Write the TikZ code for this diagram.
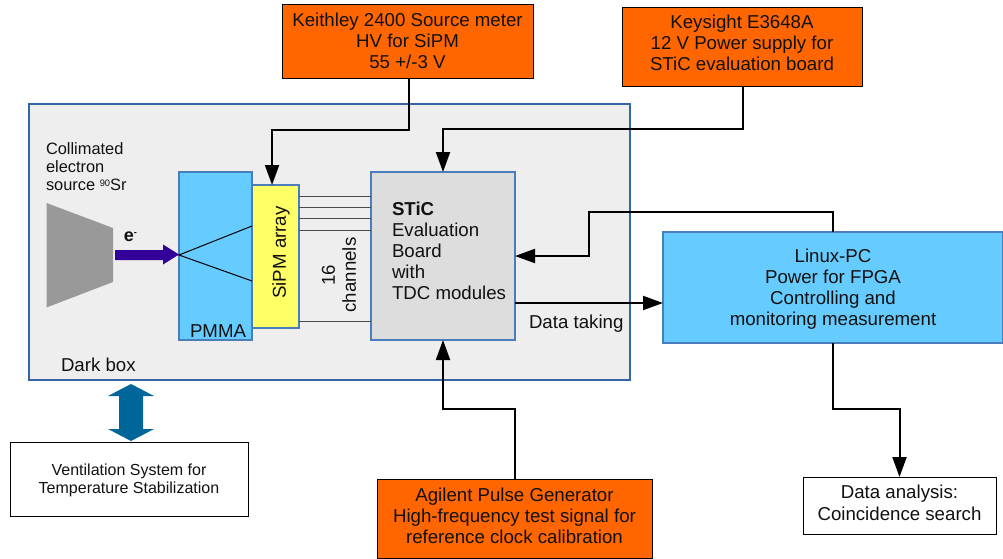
\documentclass[tikz,border=0pt]{standalone}
\usepackage{fontspec}
\setmainfont{Liberation Sans}
\usetikzlibrary{arrows.meta}
\definecolor{frameblue}{HTML}{3465A4}
\definecolor{edgeblue}{HTML}{4A7EBB}
\definecolor{orangebox}{HTML}{FF6600}
\definecolor{skybox}{HTML}{66CCFF}
\definecolor{yellowbox}{HTML}{FFFF66}
\definecolor{textdark}{HTML}{111111}
\definecolor{darkfill}{HTML}{EEEEEE}
\definecolor{sticfill}{HTML}{DDDDDD}
\definecolor{sourcegray}{HTML}{999999}
\definecolor{beamcol}{HTML}{330099}
\definecolor{ventcol}{HTML}{006699}
\newcommand\shiftup[2]{\raisebox{\dimexpr#1-2.5pt\relax}[0pt][0pt]{\begin{tabular}{@{}c@{}}#2\end{tabular}}}
\tikzset{
  sz/.style 2 args={minimum width=#1*0.75pt,minimum height=#2*0.75pt},
  base/.style={inner sep=0pt,outer sep=0pt,text=textdark,align=center},
  orangeb/.style={base,draw=black,line width=0.6pt,fill=orangebox,font=\fontsize{14}{15.75}\selectfont},
  whiteb/.style={base,draw=black,line width=0.6pt,fill=white},
  skyb/.style={base,draw=edgeblue,line width=0.8pt,fill=skybox},
  lbl/.style={inner sep=0pt,outer sep=0pt,text=textdark,font=\fontsize{14}{15.75}\selectfont},
  conn/.style={draw=black,line width=1.5pt,-{Triangle[length=15pt,width=10.5pt]}},
  chan/.style={draw=black!70,line width=0.75pt},
}
\begin{document}
\begin{tikzpicture}[x=0.75pt,y=-0.75pt]
\useasboundingbox (0,0) rectangle (1003,558);
% dark box
\node[base,draw=frameblue,line width=1.5pt,fill=darkfill,sz={601}{276}] (dark) at (329.5,242) {};
% outer boxes
\node[orangeb,sz={251}{74}] (keithley) at (407.5,41) {\shiftup{-3pt}{Keithley 2400 Source meter\\HV for SiPM\\55 +/-3 V}};
\node[orangeb,sz={240}{79}] (keysight) at (742,46.5) {\shiftup{-0.4pt}{Keysight E3648A\\12 V Power supply for\\STiC evaluation board}};
\node[orangeb,sz={275}{79}] (agilent) at (514.5,518.5) {\shiftup{-0.75pt}{Agilent Pulse Generator\\High-frequency test signal for\\reference clock calibration}};
\node[skyb,sz={340}{111},font=\fontsize{14}{15.75}\selectfont] (pc) at (833,287.5) {\shiftup{-3pt}{Linux-PC\\Power for FPGA\\Controlling and\\monitoring measurement}};
\node[whiteb,sz={193}{57},font=\fontsize{14}{16.5}\selectfont] (analysis) at (899.5,505.5) {\shiftup{-0.75pt}{Data analysis:\\Coincidence search}};
\node[whiteb,sz={238}{74},font=\fontsize{12}{13.5}\selectfont] (vent) at (129,479) {\shiftup{-1.9pt}{Ventilation System for\\Temperature Stabilization}};
% detector
\node[skyb,sz={73}{168}] (pmma) at (215.5,256) {};
\node[base,draw=edgeblue,line width=0.8pt,fill=yellowbox,sz={47}{143}] (sipm) at (275.5,256.5) {};
\node[base,draw=edgeblue,line width=0.8pt,fill=sticfill,sz={144}{168}] (stic) at (443,256) {};
% channels
\foreach \yy in {196,207,218.5,230,321}
  \draw[chan] (sipm.east |- 0,\yy) -- (stic.west |- 0,\yy);
% source
\fill[sourcegray] (46.5,203) -- (113,228) -- (113,282) -- (46.5,307.5) -- cycle;
% rays
\coordinate (focus) at (179,255);
\draw[black,line width=0.75pt] (sipm.west |- 0,226) -- (focus) -- (sipm.west |- 0,281);
% electron arrow
\fill[beamcol] (115,250) -- (163,250) -- (163,244.5) -- (179,254.5) -- (163,264.5) -- (163,260) -- (115,260) -- cycle;
% ventilation double arrow
\fill[ventcol] (131,384) -- (154,396) -- (143,396) -- (143,429) -- (154,429) -- (131,441) -- (108,429) -- (119,429) -- (119,396) -- (108,396) -- cycle;
% labels
\node[lbl,anchor=north west,align=left,font=\fontsize{12.3}{13.5}\selectfont] (src) at (46,143) {Collimated\\electron\\source \raisebox{0.45ex}{\fontsize{7}{8}\selectfont 90}Sr};
\node[lbl,font=\fontsize{13.5}{14}\bfseries] (eminus) at (130.5,236.5) {e\raisebox{0.6ex}{\fontsize{7}{8}\selectfont -}};
\node[lbl,anchor=east] (pmmal) at (246,331) {PMMA};
\node[lbl,rotate=90] (sipml) at (281,252.5) {SiPM array};
\node[lbl,rotate=90,align=center] (chl) at (339,275) {16\\channels};
\node[lbl,anchor=west] (dbl) at (61,365) {Dark box};
\node[lbl,anchor=west] (dtl) at (529,324) {Data taking};
\node[lbl,anchor=north west,align=left] (sticl) at (392,202) {\textbf{STiC}\\Evaluation\\Board\\with\\TDC modules};
% connectors
\draw[conn] ([xshift=0.9pt]keithley.south) -- ++(0,52) -| ([xshift=-2.6pt]sipm.north);
\draw[conn] ([xshift=0.75pt]keysight.south) -- ++(0,43) -| (stic.north);
\draw[conn] (pc.north -| 833,0) |- (589,212) |- (stic.east |- 0,256);
\draw[conn] (stic.east |- 0,303) -- (pc.west |- 0,303);
\draw[conn] ([xshift=0.4pt]agilent.north) -- ++(0,-70) -| (stic.south);
\draw[conn] (pc.south -| 833,0) |- (analysis.north |- 0,409) -- (analysis.north);
\end{tikzpicture}
\end{document}
